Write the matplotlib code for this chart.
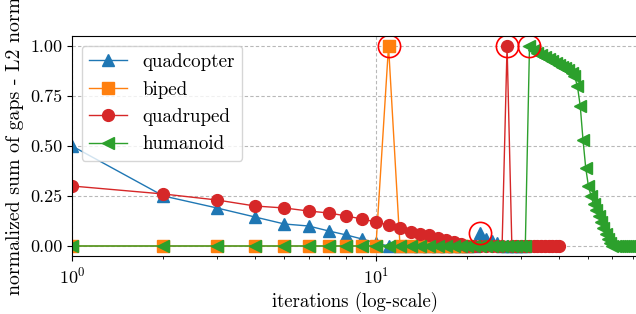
import numpy as np
import matplotlib
matplotlib.use('Agg')
import matplotlib.pyplot as plt

plt.rcParams['font.family'] = 'serif'
plt.rcParams['font.serif'] = ['cmr10']
plt.rcParams['mathtext.fontset'] = 'cm'
plt.rcParams['axes.formatter.use_mathtext'] = True

# wartosci
quadcopter = [0.50, 0.25, 0.19, 0.145, 0.11, 0.10, 0.075, 0.055, 0.035, 0.015,
              0, 0, 0, 0, 0, 0, 0, 0, 0, 0, 0, 0.065, 0.035, 0.025, 0.015,
              0, 0, 0, 0, 0, 0]
biped = [0, 0, 0, 0, 0, 0, 0, 0, 0, 0, 1.0, 0, 0, 0, 0, 0, 0, 0, 0, 0]
quadruped = [0.30, 0.26, 0.23, 0.20, 0.19, 0.175, 0.165, 0.15, 0.135, 0.12,
             0.105, 0.09, 0.07, 0.06, 0.055, 0.04, 0.03, 0.02, 0.01, 0,
             0, 0, 0, 0, 0, 0, 1.0, 0, 0, 0, 0, 0, 0, 0, 0, 0, 0, 0, 0, 0]
humanoid = [0] * 31 + [1.0, 0.98, 0.965, 0.955, 0.945, 0.935, 0.925, 0.915,
                       0.905, 0.895, 0.89, 0.88, 0.865, 0.85, 0.80, 0.70,
                       0.53, 0.39, 0.30, 0.25, 0.21, 0.18, 0.15, 0.12, 0.09,
                       0.06, 0.035, 0.015] + [0] * 14
# zaznaczone skoki
marked_x = [11, 27, 32, 22]
marked_y = [1.0, 1.0, 1.0, 0.065]

fig = plt.figure(figsize=(6.36, 3.14), dpi=100)
ax = fig.add_axes([72 / 636, 1 - 256 / 314, 566 / 636, 220 / 314])

ms = 8.5
ax.plot(np.arange(1, len(quadcopter) + 1), quadcopter, color='tab:blue', marker='^', markersize=ms, lw=1, label='quadcopter')
ax.plot(np.arange(1, len(biped) + 1), biped, color='tab:orange', marker='s', markersize=ms, lw=1, label='biped')
ax.plot(np.arange(1, len(quadruped) + 1), quadruped, color='tab:red', marker='o', markersize=ms, lw=1, label='quadruped')
ax.plot(np.arange(1, len(humanoid) + 1), humanoid, color='tab:green', marker='<', markersize=ms, lw=1, label='humanoid')
ax.plot(marked_x, marked_y, 'o', markersize=16, markerfacecolor='none', markeredgecolor='red', markeredgewidth=1.2)

ax.set_xscale('log')
ax.set_xlim(1, 72.8)
ax.set_ylim(-0.05, 1.05)
ax.set_yticks([0, 0.25, 0.5, 0.75, 1.0])
ax.yaxis.set_major_formatter(matplotlib.ticker.FormatStrFormatter('%.2f'))
ax.grid(True, which='major', linestyle=(0, (3, 2)), color='0.72', lw=0.8)
ax.tick_params(labelsize=13)
ax.set_xlabel('iterations (log-scale)', fontsize=13.5)
ax.set_ylabel('normalized sum of gaps - L2 norm', fontsize=14.3)
ax.legend(loc='upper left', fontsize=13.7)
fig.savefig('out.png', dpi=100)
